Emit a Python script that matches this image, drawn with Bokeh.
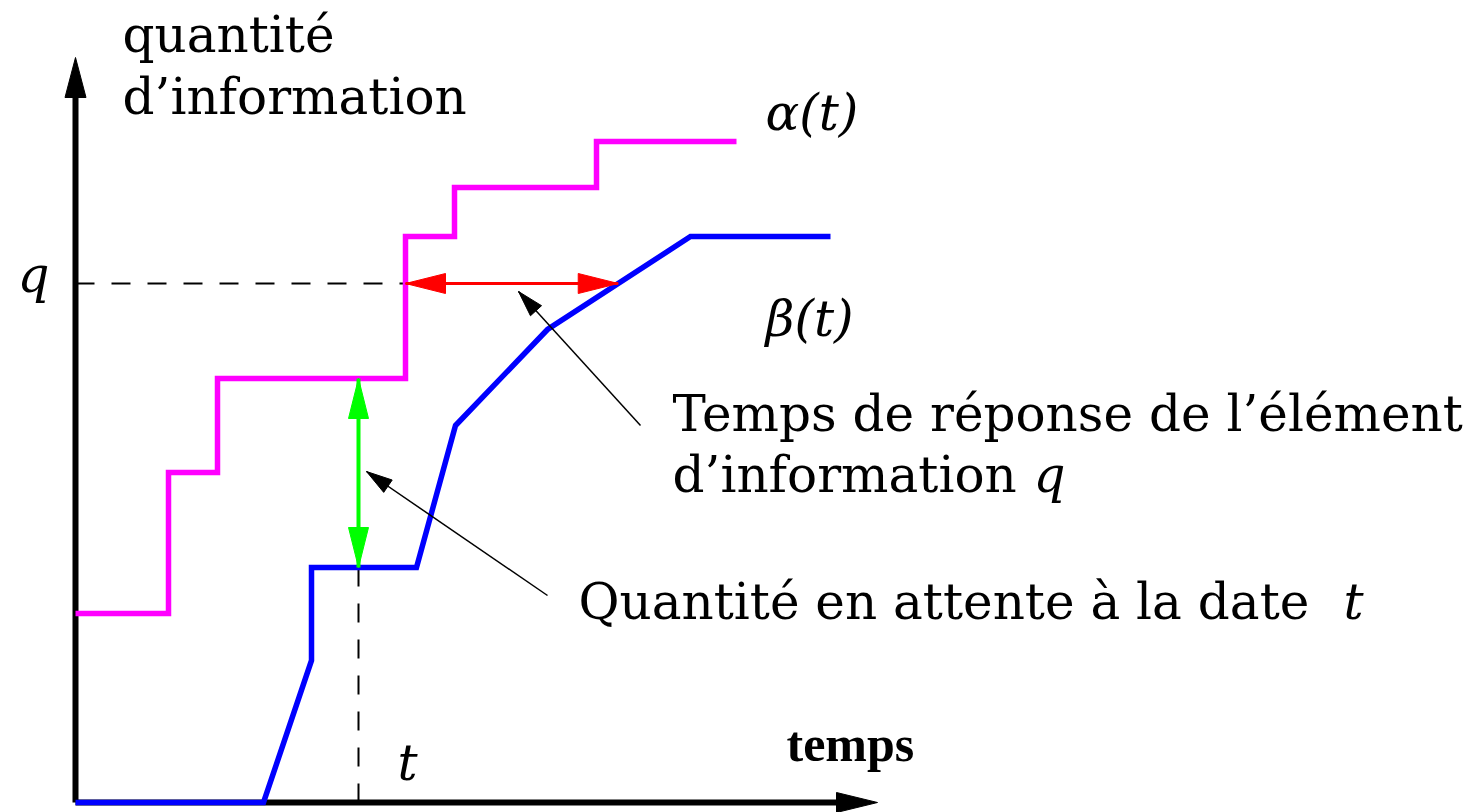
import numpy as np
from bokeh.plotting import figure
from bokeh.models import Range1d
from bokeh.core.properties import value
from bokeh.embed import file_html
from bokeh.resources import INLINE

# ---- data (abstract units: time / quantity of information) ----
alpha_t = [0, 93, 93, 142, 142, 330, 330, 379, 379, 521, 521, 661]
alpha_q = [189, 189, 330, 330, 424, 424, 566, 566, 615, 615, 661, 661]
beta_t = [0, 188, 236, 236, 341, 380, 472, 615, 755]
beta_q = [0, 0, 142, 235, 235, 377, 473, 566, 566]
q_level = 519
t_mark = 283
axis_x_end = 802
axis_y_end = 745


def alpha_step(t):
    lvl = alpha_q[0]
    for i in range(0, len(alpha_t) - 1):
        if alpha_t[i] == alpha_t[i + 1] and t >= alpha_t[i]:
            lvl = alpha_q[i + 1]
    return lvl


alpha_at_t = alpha_step(t_mark)
beta_at_t = float(np.interp(t_mark, beta_t[3:], beta_q[3:]))
alpha_time_q = next(alpha_t[i] for i in range(len(alpha_t) - 1)
                    if alpha_t[i] == alpha_t[i + 1] and alpha_q[i] < q_level <= alpha_q[i + 1])
beta_time_q = float(np.interp(q_level, beta_q[3:-1], beta_t[3:-1]))

p = figure(width=1484, height=812, x_range=Range1d(-75, 1409), y_range=Range1d(-10, 802),
           output_backend="svg", toolbar_location=None, min_border=0,
           x_axis_location=None, y_axis_location=None)
p.grid.visible = False
p.outline_line_color = None
p.background_fill_color = "white"
p.border_fill_color = "white"


def head(tx, ty, fx, fy, L, W):
    d = np.array([tx - fx, ty - fy], dtype=float)
    d /= np.hypot(*d)
    n = np.array([-d[1], d[0]])
    b = np.array([tx, ty]) - L * d
    p1 = b + W / 2 * n
    p2 = b - W / 2 * n
    return [tx, p1[0], p2[0]], [ty, p1[1], p2[1]]


# dashed guides
p.line([0, alpha_time_q], [q_level, q_level], line_color="black", line_width=2, line_dash="19 17")
p.line([t_mark, t_mark], [0, beta_at_t], line_color="black", line_width=2, line_dash="19 17")

# axes
p.line([0, 0], [0, axis_y_end - 30], line_color="black", line_width=6)
p.line([0, axis_x_end - 30], [0, 0], line_color="black", line_width=6)
hx, hy = [], []
for tip, frm, L, W in [((0, axis_y_end), (0, 0), 40, 21), ((axis_x_end, 0), (0, 0), 41, 20)]:
    a, b = head(tip[0], tip[1], frm[0], frm[1], L, W)
    hx.append(a); hy.append(b)
p.patches(hx, hy, fill_color="black", line_color="black", line_width=1)

# curves
p.line(alpha_t, alpha_q, line_color="#ff00ff", line_width=5.5, line_join="miter")
p.line(beta_t, beta_q, line_color="#0000ff", line_width=5.5, line_join="miter")

# red double arrow (response time)
p.line([alpha_time_q, beta_time_q], [q_level, q_level], line_color="#ff0000", line_width=3)
rx, ry = [], []
for tip, frm in [((alpha_time_q, q_level), (beta_time_q, q_level)), ((beta_time_q, q_level), (alpha_time_q, q_level))]:
    a, b = head(tip[0], tip[1], frm[0], frm[1], 40, 20)
    rx.append(a); ry.append(b)
p.patches(rx, ry, fill_color="#ff0000", line_color="#ff0000", line_width=1)

# green double arrow (backlog)
p.line([t_mark, t_mark], [beta_at_t, alpha_at_t], line_color="#00ff00", line_width=4)
gx, gy = [], []
for tip, frm in [((t_mark, alpha_at_t), (t_mark, beta_at_t)), ((t_mark, beta_at_t), (t_mark, alpha_at_t))]:
    a, b = head(tip[0], tip[1], frm[0], frm[1], 40, 20)
    gx.append(a); gy.append(b)
p.patches(gx, gy, fill_color="#00ff00", line_color="#00ff00", line_width=1)

# annotation pointers
ann = [((565, 377), (443, 511)), ((472, 207), (291, 331))]
ax_, ay_ = [], []
for (fx, fy), (tx, ty) in ann:
    p.line([fx, tx], [fy, ty], line_color="black", line_width=1.5)
    a, b = head(tx, ty, fx, fy, 26, 15)
    ax_.append(a); ay_.append(b)
p.patches(ax_, ay_, fill_color="black", line_color="black", line_width=1)

# texts
serif = value("DejaVu Serif")
p.text(x=[47, 47, 597, 597, 503], y=[768, 706, 389, 328, 201],
       text=["quantité", "d’information", "Temps de réponse de l’élément",
             "d’information", "Quantité en attente à la date"],
       text_font=serif, text_font_size="50px", text_baseline="alphabetic",
       text_align="left", text_color="black")
p.text(x=[-58, 322, 958, 1268, 690, 690], y=[528, 40, 328, 201, 690, 484],
       text=["q", "t", "q", "t", "α(t)", "β(t)"],
       text_font=serif, text_font_style="italic", text_font_size="50px",
       text_baseline="alphabetic", text_align="left", text_color="black")
p.text(x=[711], y=[59], text=["temps"], text_font=value("Liberation Serif"),
       text_font_style="bold", text_font_size="50px", text_baseline="alphabetic",
       text_align="left", text_color="black")

open("out.html", "w").write(file_html(p, INLINE))
